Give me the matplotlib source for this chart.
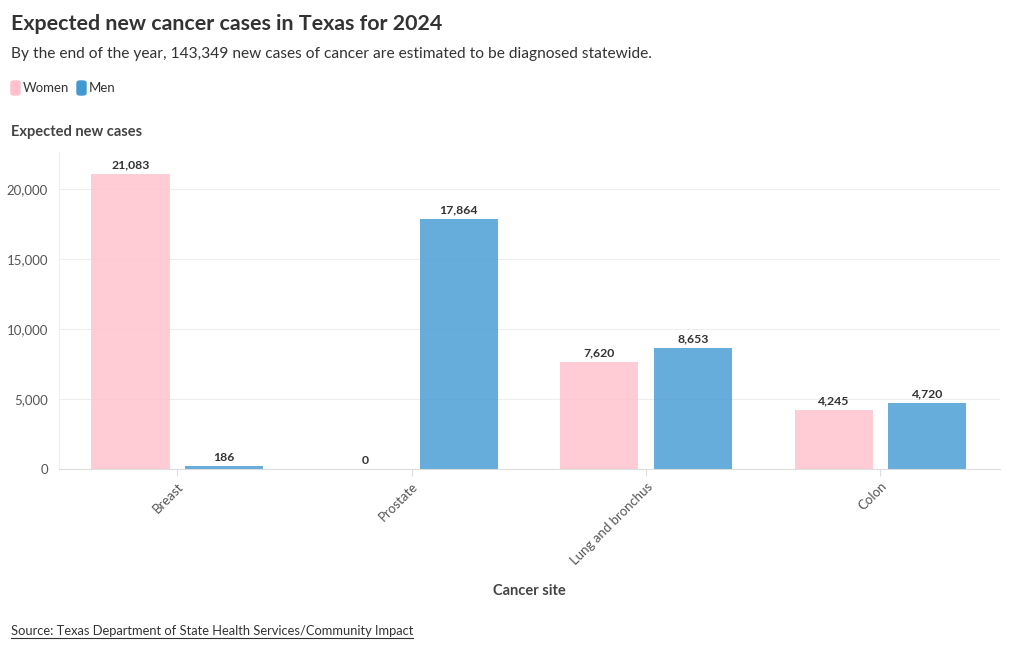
import matplotlib
matplotlib.use("Agg")
import matplotlib.pyplot as plt
from matplotlib.patches import FancyBboxPatch

# Data
sites = ["Breast", "Prostate", "Lung and bronchus", "Colon"]
women = [21083, 0, 7620, 4245]
men = [186, 17864, 8653, 4720]
y_ticks = [0, 5000, 10000, 15000, 20000]

pink = "#ffc0cb"
blue = "#4199d4"
dark = "#333333"

plt.rcParams["font.family"] = ["Lato", "DejaVu Sans"]

W, H = 1020, 650
fig = plt.figure(figsize=(W / 100, H / 100), dpi=100)


def fx(px):
    return px / W


def fy(py):
    return 1 - py / H


ax = fig.add_axes([fx(59), fy(469), fx(1000) - fx(59), fy(152) - fy(469)])

x = list(range(len(sites)))
bw = 0.333
off = 0.2
ax.bar([i - off for i in x], women, width=bw, color=pink, alpha=0.8, zorder=2)
ax.bar([i + off for i in x], men, width=bw, color=blue, alpha=0.8, zorder=2)

for i in x:
    ax.text(i - off, women[i] + 250, f"{women[i]:,}", ha="center", va="bottom",
            fontsize=8.8, fontweight="bold", color=dark)
    ax.text(i + off, men[i] + 250, f"{men[i]:,}", ha="center", va="bottom",
            fontsize=8.8, fontweight="bold", color=dark)

ax.set_xlim(-0.505, 3.51)
ax.set_ylim(0, 22643)
ax.set_yticks(y_ticks)
ax.set_yticklabels([f"{v:,}" for v in y_ticks])
ax.set_xticks(x)
ax.set_xticklabels(sites, rotation=45, ha="right", rotation_mode="anchor")
ax.tick_params(axis="y", length=0, labelsize=9.5, labelcolor="#555555", pad=8)
ax.tick_params(axis="x", length=5, color="#dddddd", labelsize=9.5,
               labelcolor="#555555", pad=3)
ax.grid(axis="y", color="#eeeeee", linewidth=0.8, zorder=0)
for s in ["top", "right"]:
    ax.spines[s].set_visible(False)
ax.spines["left"].set_color("#eeeeee")
ax.spines["bottom"].set_color("#dddddd")

# Titles and notes
fig.text(fx(11), fy(24), "Expected new cancer cases in Texas for 2024",
         fontsize=15.4, fontweight="bold", color=dark, va="center")
fig.text(fx(11), fy(54),
         "By the end of the year, 143,349 new cases of cancer are estimated to be diagnosed statewide.",
         fontsize=11.2, color=dark, va="center")
fig.text(fx(11), fy(132), "Expected new cases", fontsize=10.5,
         fontweight="bold", color="#444444", va="center")
fig.text(fx(529), fy(591), "Cancer site", fontsize=10.5,
         fontweight="bold", color="#444444", va="center", ha="center")
src = fig.text(fx(11), fy(631), "Source: Texas Department of State Health Services/Community Impact",
               fontsize=9.3, color=dark, va="center")

# underline for source
fig.canvas.draw()
bb = src.get_window_extent()
fig.add_artist(plt.Line2D([bb.x0 / W, bb.x1 / W], [fy(638), fy(638)],
                          transform=fig.transFigure, color=dark, linewidth=0.8))

# Legend
for (px, label, col) in [(11, "Women", pink), (77, "Men", blue)]:
    fig.patches.append(FancyBboxPatch((fx(px), fy(95)), fx(9), fy(81) - fy(95),
                                      boxstyle="round,pad=0,rounding_size=0.003",
                                      transform=fig.transFigure, color=col))
    fig.text(fx(px + 12), fy(88), label, fontsize=9.5, color=dark, va="center")

fig.savefig("out.png", dpi=100)
